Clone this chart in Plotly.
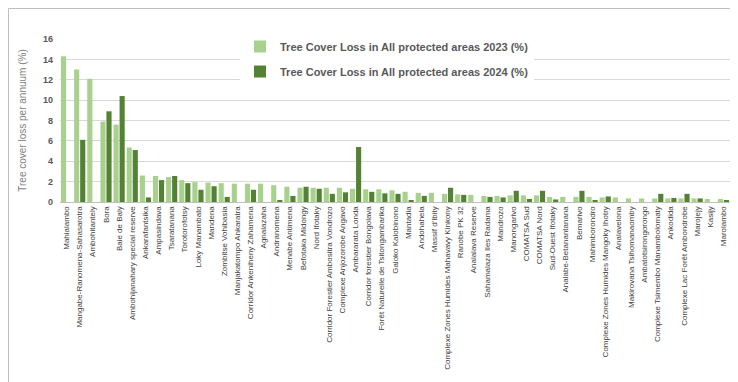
import plotly.graph_objects as go

categories = [
    "Mahialambo", "Mangabe-Ranomena-Sahasarotra", "Ambohitantely", "Bora", "Baie de Baly",
    "Ambohijanahary special reserve", "Ankarafantsika", "Ampasindava", "Tsaratanana", "Torotorofotsy",
    "Loky Manambato", "Mandena", "Zombitse Vohibasia", "Manjakatompo Ankaratra",
    "Corridor Ankeniheny Zahamena", "Agnalazaha", "Andranomena", "Menabe Antimena",
    "Befotaka Midongy", "Nord Ifotaky", "Corridor Forestier Ambositra Vondrozo",
    "Complexe Anjozorobe Angavo", "Ambararata Londa", "Corridor forestier Bongolava",
    "Forêt Naturelle de Tsitongambarika", "Galoko Kalobinono", "Mantadia", "Andohahela",
    "Massif d'Ibity", "Complexe Zones Humides Mahavavy Kinkony", "Ranobe PK 32",
    "Analalava Reserve", "Sahamalaza Iles Radama", "Mandrozo", "Manongarivo", "COMATSA Sud",
    "COMATSA Nord", "Sud-Ouest Ifotaky", "Analabe-Betanantanana", "Bemarivo", "Mahimborondro",
    "Complexe Zones Humides Mangoky Ihotry", "Analavelona", "Makirovana Tsihomanaomby",
    "Ambatotsirongorongo", "Complexe Tsimembo Manambolomaty", "Ankodida",
    "Complexe Lac Forêt Ambondrobe", "Marojejy", "Kasijy", "Marolambo",
]

loss_2023 = [
    14.3, 13.0, 12.1, 7.9, 7.6,
    5.35, 2.6, 2.55, 2.45, 2.15,
    1.95, 1.9, 1.85, 1.8,
    1.8, 1.8, 1.65, 1.5,
    1.4, 1.4, 1.4,
    1.4, 1.3, 1.25,
    1.25, 1.15, 1.0, 0.9,
    0.9, 0.8, 0.75,
    0.7, 0.6, 0.6, 0.65, 0.65,
    0.65, 0.5, 0.5, 0.5, 0.5,
    0.45, 0.45, 0.35,
    0.35, 0.35, 0.35,
    0.35, 0.35, 0.3, 0.3,
]

loss_2024 = [
    0, 6.1, 0, 8.9, 10.4,
    5.1, 0.45, 2.15, 2.55, 1.85,
    1.2, 1.55, 0.5, 0,
    1.2, 0, 0.2, 0.6,
    1.5, 1.3, 0.8,
    0.95, 5.4, 1.0,
    0.85, 0.8, 0.1, 0.6,
    0, 1.4, 0.7,
    0, 0.5, 0.45, 1.1, 0.3,
    1.1, 0.25, 0, 1.1, 0.15,
    0.55, 0, 0,
    0, 0.8, 0.4,
    0.8, 0.35, 0, 0.1,
]

series_names = [
    "Tree Cover Loss in All protected areas 2023 (%)",
    "Tree Cover Loss in All protected areas 2024 (%)",
]

W, H = 738, 382
ML, MR, MT, MB = 52, 16, 31, 188
PW, PH = W - ML - MR, H - MT - MB

fig = go.Figure()
fig.add_trace(go.Bar(x=categories, y=loss_2023, name=series_names[0],
                     marker=dict(color="#a9d18e", line=dict(width=0)), legendgroup="a"))
fig.add_trace(go.Bar(x=categories, y=loss_2024, name=series_names[1],
                     marker=dict(color="#548235", line=dict(width=0)), legendgroup="b"))

fig.update_layout(
    width=W, height=H,
    margin=dict(l=ML, r=MR, t=MT, b=MB, pad=0),
    paper_bgcolor="white", plot_bgcolor="white",
    barmode="group", bargap=0.08, bargroupgap=0.15,
    font=dict(family="Liberation Sans, Arial, sans-serif", color="#595959"),
    showlegend=True,
    legend=dict(
        x=(232 - ML) / PW, y=(MT + PH - 24) / PH, xanchor="left", yanchor="top",
        bgcolor="white", borderwidth=0,
        font=dict(size=11, color="#595959", family="Liberation Sans, Arial, sans-serif", weight="bold"),
        traceorder="grouped", tracegroupgap=6,
    ),
    xaxis=dict(
        tickangle=-90, tickfont=dict(size=8, color="#404040"),
        showgrid=False, showline=True, linecolor="#bfbfbf", linewidth=1,
        ticks="", ticklen=0, automargin=False, ticklabelstandoff=0,
    ),
    yaxis=dict(
        range=[0, 16], dtick=2, tick0=0,
        showgrid=True, gridcolor="#d9d9d9", gridwidth=1,
        zeroline=False, showline=False,
        tickfont=dict(size=9, color="#595959", weight="bold"),
        title=dict(text="Tree cover loss per annuum (%)", font=dict(size=10, color="#7f7f7f"), standoff=14),
        automargin=False, ticklabelstandoff=6,
    ),
    shapes=[dict(
        type="rect", xref="paper", yref="paper",
        x0=-(ML - 0.5) / PW, x1=1 + (MR - 0.5) / PW,
        y0=-(MB - 0.5) / PH, y1=1 + (MT - 0.5) / PH,
        line=dict(color="#bfbfbf", width=1), fillcolor="rgba(0,0,0,0)", layer="above",
    )],
)

fig.write_html("out.html")
